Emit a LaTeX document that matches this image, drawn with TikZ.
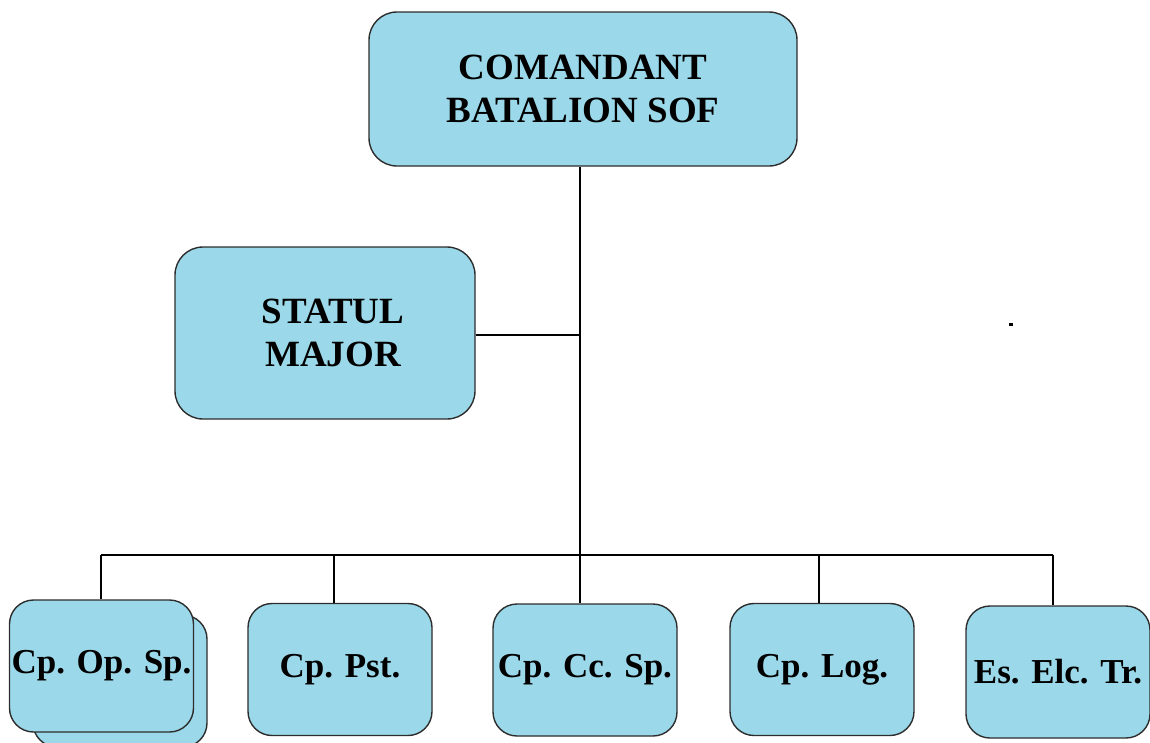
\documentclass[tikz,border=0pt]{standalone}
\usepackage{fontspec}
\setmainfont{Liberation Serif}
\definecolor{boxfill}{RGB}{155,217,234}
\definecolor{boxline}{RGB}{45,45,45}
\tikzset{
  unit/.style={draw=boxline, line width=1.4pt, fill=boxfill, rounded corners=28pt,
    inner sep=0pt, align=center, font=\bfseries\fontsize{37}{43}\selectfont},
  smallunit/.style={unit, minimum width=184pt, minimum height=132pt, rounded corners=24pt,
    font=\bfseries\fontsize{35}{40}\selectfont},
  wire/.style={draw=black, line width=1.4pt}
}
\begin{document}
\begin{tikzpicture}[x=1pt,y=-1pt]
\useasboundingbox (0,0) rectangle (1150,742);
% top
\node[unit, minimum width=428pt, minimum height=154pt] (top) at (583,89) {COMANDANT\\BATALION SOF};
\node[unit, minimum width=300pt, minimum height=172pt] (sm) at (325,333) {\hspace*{16pt}STATUL\\\hspace*{16pt}MAJOR};
% bottom
\node[smallunit, minimum width=174pt] (b1back) at (120,681) {};
\node[smallunit] (b1) at (101.5,666) {Cp. Op. Sp.};
\node[smallunit] (b2) at (340,669.5) {Cp. Pst.};
\node[smallunit] (b3) at (585,670) {Cp. Cc. Sp.};
\node[smallunit] (b4) at (822,669.5) {Cp. Log.};
\node[smallunit] (b5) at (1058,672) {Es. Elc. Tr.};
% junctions
\coordinate (j1) at (580,335);
\coordinate (j2) at (580,555);
\coordinate (d1) at (101,555);
\coordinate (d2) at (334,555);
\coordinate (d4) at (819,555);
\coordinate (d5) at (1053,555);
% wires
\draw[wire] (top.south -| j2) -- (j2);
\draw[wire] (sm.east |- j1) -- (j1);
\draw[wire] (d1) -- (d5);
\draw[wire] (d1) -- (d1 |- b1.north);
\draw[wire] (d2) -- (d2 |- b2.north);
\draw[wire] (j2) -- (j2 |- b3.north);
\draw[wire] (d4) -- (d4 |- b4.north);
\draw[wire] (d5) -- (d5 |- b5.north);
% stray mark
\fill[black] (1009,323) rectangle (1013,325.5);
\end{tikzpicture}
\end{document}
